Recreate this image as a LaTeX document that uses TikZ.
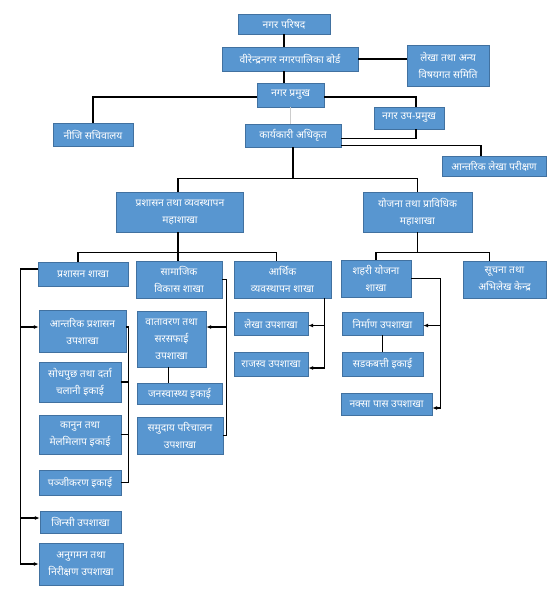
\documentclass[tikz,border=0pt]{standalone}
\usepackage{fontspec}
\newfontfamily\devfont[Script=Devanagari]{Noto Sans}
\definecolor{orgblue}{RGB}{88,150,208}
\definecolor{orgedge}{RGB}{65,113,160}
\usetikzlibrary{arrows.meta,calc}

\begin{document}
\begin{tikzpicture}[x=1pt,y=-1pt,
  box/.style={draw=orgedge, fill=orgblue, text=white, inner sep=0pt, align=center,
    font=\devfont\fontsize{10.3}{17}\selectfont},
  link/.style={line width=1.3pt, black},
  feed/.style={link, -{Latex[length=5pt,width=4pt]}}]
\useasboundingbox (0,0) rectangle (555,600);

% Council and board
\node[box, minimum width=92, minimum height=20] (parishad) at (284,24) {नगर परिषद};
\node[box, minimum width=136, minimum height=24] (board) at (290,59) {वीरेन्द्रनगर नगरपालिका बोर्ड};
\node[box, minimum width=82, minimum height=41] (samiti) at (448,65.5) {लेखा तथा अन्य\\विषयगत समिति};
\node[box, minimum width=67, minimum height=24] (pramukh) at (290.5,95) {नगर प्रमुख};
\node[box, minimum width=80, minimum height=23] (niji) at (93,134.5) {नीजि सचिवालय};
\node[box, minimum width=70, minimum height=22] (upa) at (409,118) {नगर उप-प्रमुख};
\node[box, minimum width=96, minimum height=23] (karyakari) at (293,135.5) {कार्यकारी अधिकृत};
\node[box, minimum width=104, minimum height=20] (pariksan) at (494,166) {आन्तरिक लेखा परीक्षण};

% Divisions
\node[box, minimum width=127, minimum height=40] (prashasan) at (180,212) {प्रशासन तथा व्यवस्थापन\\महाशाखा};
\node[box, minimum width=109, minimum height=40] (yojana) at (417.5,212) {योजना तथा प्राविधिक\\महाशाखा};

% Sections
\node[box, minimum width=90, minimum height=24] (prasakha) at (83,274) {प्रशासन शाखा};
\node[box, minimum width=86, minimum height=37] (samajik) at (179,279.5) {सामाजिक\\विकास  शाखा};
\node[box, minimum width=97, minimum height=37] (arthik) at (282.5,279.5) {आर्थिक\\व्यवस्थापन  शाखा};
\node[box, minimum width=70, minimum height=37] (sahari) at (376,278.5) {शहरी योजना\\शाखा};
\node[box, minimum width=83, minimum height=37] (suchana) at (504.5,279.5) {सूचना तथा\\अभिलेख केन्द्र};

% Sub-sections and units
\node[box, minimum width=87, minimum height=42] (antarik) at (82.5,331) {आन्तरिक प्रशासन\\उपशाखा};
\node[box, minimum width=82, minimum height=40] (sodhpuchh) at (80,382) {सोधपुछ तथा दर्ता\\चलानी इकाई};
\node[box, minimum width=82, minimum height=39] (kanun) at (80,434.5) {कानुन तथा\\मेलमिलाप इकाई};
\node[box, minimum width=82, minimum height=25] (panjikaran) at (80,482.5) {पञ्जीकरण इकाई};
\node[box, minimum width=81, minimum height=22] (jinsi) at (80.5,522) {जिन्सी उपशाखा};
\node[box, minimum width=84, minimum height=42] (anugaman) at (81,564) {अनुगमन तथा\\निरीक्षण उपशाखा};
\node[box, minimum width=69, minimum height=56] (vatavaran) at (171.5,339) {वातावरण तथा\\सरसफाई\\उपशाखा};
\node[box, minimum width=85, minimum height=21] (janswasthya) at (179.5,393.5) {जनस्वास्थ्य इकाई};
\node[box, minimum width=86, minimum height=37] (samudaya) at (180,435.5) {समुदाय परिचालन\\उपशाखा};
\node[box, minimum width=74, minimum height=23] (lekha) at (271,323.5) {लेखा उपशाखा};
\node[box, minimum width=74, minimum height=24] (rajaswa) at (271,364) {राजस्व उपशाखा};
\node[box, minimum width=81, minimum height=23] (nirman) at (382.5,323.5) {निर्माण  उपशाखा};
\node[box, minimum width=81, minimum height=24] (sadak) at (382.5,364) {सडकबत्ती  इकाई};
\node[box, minimum width=91, minimum height=22] (naksa) at (386.5,404) {नक्सा पास उपशाखा};

% Top links
\draw[link] (parishad.south) -- (parishad.south |- board.north);
\draw[link] (parishad.south |- board.south) -- (parishad.south |- pramukh.north);
\draw[link] (board.east) -- (board.east -| samiti.west);
\draw[link] ([yshift=-2]pramukh.west) -| (niji.north);
\draw[link] ([yshift=-2]pramukh.east) -| ([xshift=7]upa.north);
\draw[link] ([yshift=-3]karyakari.east) -| ([xshift=7]upa.south);
\draw[black!20, line width=1pt] (pramukh.south) -- (pramukh.south |- karyakari.north);
\draw[link] ([yshift=-10]karyakari.east) -| ([xshift=-13]pariksan.north);
\draw[link] (karyakari.south) -- ++(0,32);
\draw[link] ([xshift=-2]prashasan.north) -- ++(0,-13) -| (yojana.north);

% Division to sections
\draw[link] ([xshift=-2]prashasan.south) -- ++(0,29);
\draw[link] ([xshift=-5]prasakha.north) -- ++(0,-9) -| ([xshift=-6]arthik.north);
\draw[link] (yojana.south) -- ++(0,21);
\draw[link] (sahari.north) -- ++(0,-7) -| ([xshift=-15]suchana.north);

% Administration section
\draw[feed] ([yshift=5]prasakha.west) -- ++(-17,0) coordinate (pl) |- (anugaman.west);
\foreach \t in {antarik, jinsi}
  \draw[feed] ([yshift=4]\t.west -| pl) -- ([yshift=4]\t.west);
\draw[link] ([yshift=4]antarik.east) -- ++(2,0) coordinate (pr) |- (panjikaran.east);
\foreach \t in {sodhpuchh, kanun}
  \draw[link] (\t.east) -- (\t.east -| pr);

% Social development section
\draw[link] (samajik.east) -- ++(4,0) coordinate (sr) |- (samudaya.east);
\draw[feed] ([yshift=12]vatavaran.east -| sr) -- ([yshift=12]vatavaran.east);
\draw[link] ([xshift=-3]vatavaran.south) -- ([xshift=-3]vatavaran.south |- janswasthya.north);

% Economic section
\draw[feed] ([xshift=-7]arthik.south east) coordinate (ar) |- ([yshift=-4]rajaswa.east);
\draw[feed] ([yshift=-2]lekha.east -| ar) -- ([yshift=-2]lekha.east);

% Urban planning section
\draw[feed] (sahari.east) -- ++(29,0) coordinate (yr) |- ([yshift=-4]naksa.east);
\draw[feed] ([yshift=-2]nirman.east -| yr) -- ([yshift=-2]nirman.east);
\draw[link] (nirman.south) -- (sadak.north);
\end{tikzpicture}
\end{document}
